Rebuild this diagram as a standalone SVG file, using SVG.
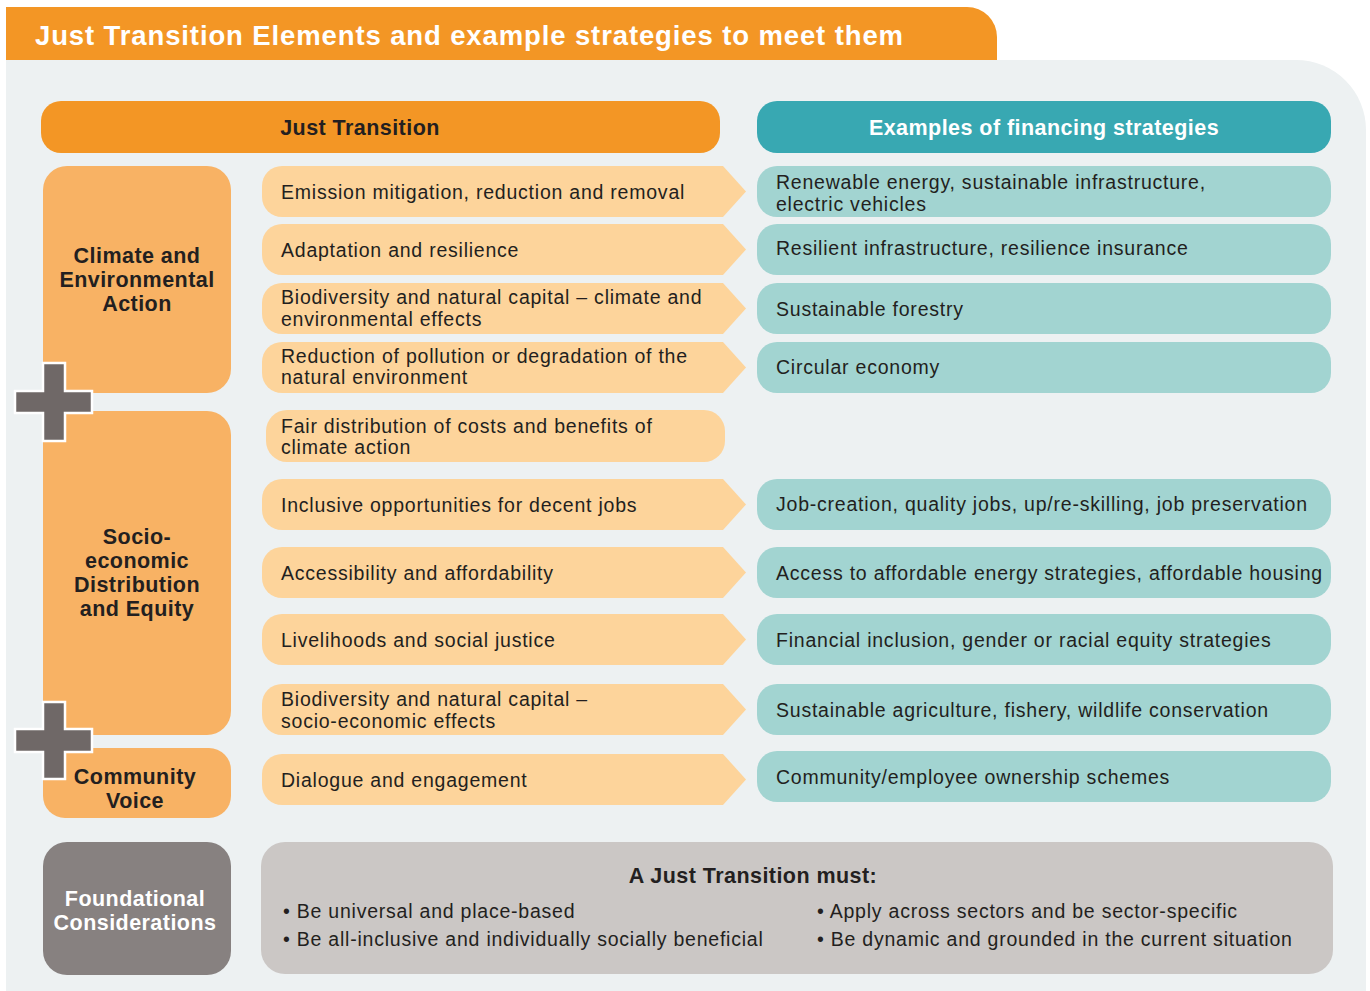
<svg xmlns="http://www.w3.org/2000/svg" width="1370" height="991" viewBox="0 0 1370 991">
<defs>
<style>
.t{font-family:"Liberation Sans",Arial,Helvetica,sans-serif;fill:#231f20}
.r{font-size:19.5px;letter-spacing:0.77px}
.b{font-weight:bold;font-size:21.5px;letter-spacing:0.45px}
.w{fill:#ffffff}
.c{text-anchor:middle}
.arrow{fill:#fdd49b}
.teal{fill:#a2d4d1}
.lab{fill:#f8b264}
.cross{fill:#6f6867;stroke:#ffffff;stroke-width:2.5}
</style>
</defs>
<rect x="0" y="0" width="1370" height="991" fill="#ffffff"/>
<g id="panel">
<path d="M6,60 H1296 A70,70 0 0 1 1366,130 V991 H6 Z" fill="#edf1f2"/>
</g>
<g id="title">
<path d="M6,7 H967 A30,30 0 0 1 997,37 V60 H6 Z" fill="#f39625"/>
<text class="t w" x="35" y="44.5" style="font-weight:bold;font-size:27.5px" textLength="868" lengthAdjust="spacing">Just Transition Elements and example strategies to meet them</text>
</g>
<g id="header-jt">
<rect x="41" y="101" width="679" height="52" rx="20" fill="#f39625"/>
<text class="t b c" x="360" y="134.5">Just Transition</text>
</g>
<g id="header-fin">
<rect x="757" y="101" width="574" height="52" rx="20" fill="#38a8b2"/>
<text class="t b c w" x="1044" y="134.5">Examples of financing strategies</text>
</g>
<g id="climate">
<rect class="lab" x="43" y="166" width="188" height="227" rx="24"/>
<text class="t b c" x="137" y="263">Climate and</text>
<text class="t b c" x="137" y="287">Environmental</text>
<text class="t b c" x="137" y="311">Action</text>
</g>
<g id="socio">
<rect class="lab" x="43" y="411" width="188" height="324" rx="24"/>
<text class="t b c" x="137" y="544">Socio-</text>
<text class="t b c" x="137" y="568">economic</text>
<text class="t b c" x="137" y="592">Distribution</text>
<text class="t b c" x="137" y="616">and Equity</text>
</g>
<g id="community">
<rect class="lab" x="43" y="748" width="188" height="70" rx="22"/>
<text class="t b c" x="135" y="784">Community</text>
<text class="t b c" x="135" y="808">Voice</text>
</g>
<g id="foundational">
<rect x="43" y="842" width="188" height="133" rx="24" fill="#878180"/>
<text class="t b c w" x="135" y="906">Foundational</text>
<text class="t b c w" x="135" y="930">Considerations</text>
</g>
<g id="plus-1">
<path class="cross" d="M43,363 H65 V391 H92 V413 H65 V441 H43 V413 H15 V391 H43 Z"/>
</g>
<g id="plus-2">
<path class="cross" d="M43,702 H65 V729 H92 V752 H65 V779 H43 V752 H15 V729 H43 Z"/>
</g>
<g id="e1">
<path class="arrow" d="M282,166 H723 L746,191.5 L723,217 H282 A20,20 0 0 1 262,197 V186 A20,20 0 0 1 282,166 Z"/>
<text class="t r" x="281" y="199">Emission mitigation, reduction and removal</text>
</g>
<g id="e2">
<path class="arrow" d="M282,224 H723 L746,249.5 L723,275 H282 A20,20 0 0 1 262,255 V244 A20,20 0 0 1 282,224 Z"/>
<text class="t r" x="281" y="257">Adaptation and resilience</text>
</g>
<g id="e3">
<path class="arrow" d="M282,283 H723 L746,308.5 L723,334 H282 A20,20 0 0 1 262,314 V303 A20,20 0 0 1 282,283 Z"/>
<text class="t r" x="281" y="304">Biodiversity and natural capital – climate and</text>
<text class="t r" x="281" y="326">environmental effects</text>
</g>
<g id="e4">
<path class="arrow" d="M282,342 H723 L746,367.5 L723,393 H282 A20,20 0 0 1 262,373 V362 A20,20 0 0 1 282,342 Z"/>
<text class="t r" x="281" y="363">Reduction of pollution or degradation of the</text>
<text class="t r" x="281" y="384">natural environment</text>
</g>
<g id="e5">
<rect class="arrow" x="266" y="410" width="459" height="52" rx="21"/>
<text class="t r" x="281" y="433">Fair distribution of costs and benefits of</text>
<text class="t r" x="281" y="454">climate action</text>
</g>
<g id="e6">
<path class="arrow" d="M282,479 H723 L746,504.5 L723,530 H282 A20,20 0 0 1 262,510 V499 A20,20 0 0 1 282,479 Z"/>
<text class="t r" x="281" y="512">Inclusive opportunities for decent jobs</text>
</g>
<g id="e7">
<path class="arrow" d="M282,547 H723 L746,572.5 L723,598 H282 A20,20 0 0 1 262,578 V567 A20,20 0 0 1 282,547 Z"/>
<text class="t r" x="281" y="580">Accessibility and affordability</text>
</g>
<g id="e8">
<path class="arrow" d="M282,614 H723 L746,639.5 L723,665 H282 A20,20 0 0 1 262,645 V634 A20,20 0 0 1 282,614 Z"/>
<text class="t r" x="281" y="647">Livelihoods and social justice</text>
</g>
<g id="e9">
<path class="arrow" d="M282,684 H723 L746,709.5 L723,735 H282 A20,20 0 0 1 262,715 V704 A20,20 0 0 1 282,684 Z"/>
<text class="t r" x="281" y="706">Biodiversity and natural capital –</text>
<text class="t r" x="281" y="728">socio-economic effects</text>
</g>
<g id="e10">
<path class="arrow" d="M282,754 H723 L746,779.5 L723,805 H282 A20,20 0 0 1 262,785 V774 A20,20 0 0 1 282,754 Z"/>
<text class="t r" x="281" y="787">Dialogue and engagement</text>
</g>
<g id="f1">
<rect class="teal" x="757" y="166" width="574" height="51" rx="20"/>
<text class="t r" x="776" y="189">Renewable energy, sustainable infrastructure,</text>
<text class="t r" x="776" y="211">electric vehicles</text>
</g>
<g id="f2">
<rect class="teal" x="757" y="224" width="574" height="51" rx="20"/>
<text class="t r" x="776" y="255">Resilient infrastructure, resilience insurance</text>
</g>
<g id="f3">
<rect class="teal" x="757" y="283" width="574" height="51" rx="20"/>
<text class="t r" x="776" y="316">Sustainable forestry</text>
</g>
<g id="f4">
<rect class="teal" x="757" y="342" width="574" height="51" rx="20"/>
<text class="t r" x="776" y="374">Circular economy</text>
</g>
<g id="f5">
<rect class="teal" x="757" y="479" width="574" height="51" rx="20"/>
<text class="t r" x="776" y="511">Job-creation, quality jobs, up/re-skilling, job preservation</text>
</g>
<g id="f6">
<rect class="teal" x="757" y="547" width="574" height="51" rx="20"/>
<text class="t r" x="776" y="580">Access to affordable energy strategies, affordable housing</text>
</g>
<g id="f7">
<rect class="teal" x="757" y="614" width="574" height="51" rx="20"/>
<text class="t r" x="776" y="647">Financial inclusion, gender or racial equity strategies</text>
</g>
<g id="f8">
<rect class="teal" x="757" y="684" width="574" height="51" rx="20"/>
<text class="t r" x="776" y="717">Sustainable agriculture, fishery, wildlife conservation</text>
</g>
<g id="f9">
<rect class="teal" x="757" y="751" width="574" height="51" rx="20"/>
<text class="t r" x="776" y="784">Community/employee ownership schemes</text>
</g>
<g id="must">
<rect x="261" y="842" width="1072" height="132" rx="24" fill="#cbc7c5"/>
<text class="t b c" x="753" y="882.5">A Just Transition must:</text>
<text class="t r" x="283" y="918">• Be universal and place-based</text>
<text class="t r" x="283" y="946">• Be all-inclusive and individually socially beneficial</text>
<text class="t r" x="817" y="918">• Apply across sectors and be sector-specific</text>
<text class="t r" x="817" y="946">• Be dynamic and grounded in the current situation</text>
</g>
<g id="connectors"></g>
</svg>
